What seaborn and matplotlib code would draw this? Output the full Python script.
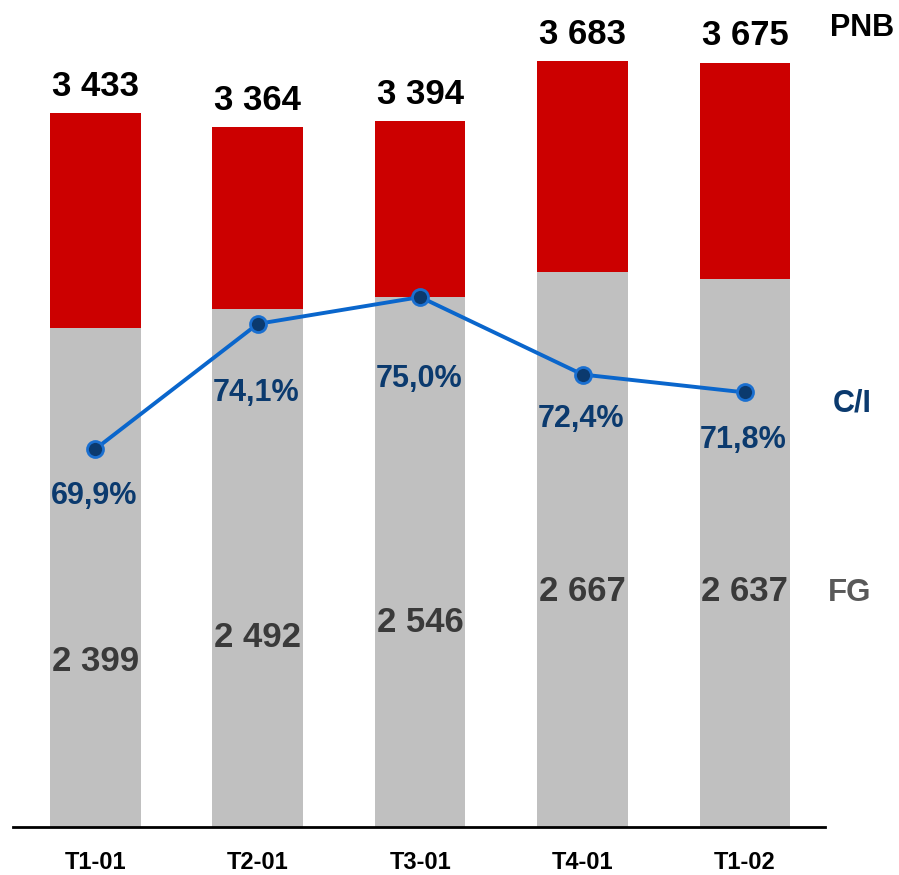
import numpy as np
import pandas as pd
import matplotlib
matplotlib.use("Agg")
import matplotlib.pyplot as plt
import seaborn as sns

categories = ["T1-01", "T2-01", "T3-01", "T4-01", "T1-02"]
pnb = [3433, 3364, 3394, 3683, 3675]
fg = [2399, 2492, 2546, 2667, 2637]
ci = [69.9, 74.1, 75.0, 72.4, 71.8]
pnb_labels = ["3 433", "3 364", "3 394", "3 683", "3 675"]
fg_labels = ["2 399", "2 492", "2 546", "2 667", "2 637"]
ci_labels = ["69,9%", "74,1%", "75,0%", "72,4%", "71,8%"]

# layout-only offsets (points) for the labels
ci_label_dy = [-34, -50, -59, -32, -34]
fg_label_dy = [-240, -237, -234, -230, -225]

sns.set_theme(style="white")
plt.rcParams["font.family"] = ["Liberation Sans", "DejaVu Sans"]

W, H = 899, 875
fig = plt.figure(figsize=(W / 100, H / 100), dpi=100)
ax = fig.add_axes([13 / W, 48 / H, (825 - 13) / W, 817 / H])

df = pd.DataFrame({"cat": categories, "pnb": pnb, "fg": fg})
sns.barplot(data=df, x="cat", y="pnb", color="#CC0000", saturation=1,
            width=0.558, ax=ax, order=categories)
sns.barplot(data=df, x="cat", y="fg", color="#C0C0C0", saturation=1,
            width=0.558, ax=ax, order=categories)
for p in ax.patches:
    p.set_edgecolor("none")
    p.set_linewidth(0)

ax.set_xlim(-0.507, 4.493)
ax.set_ylim(0, 817 / 0.208)
ax.set_xlabel("")
ax.set_ylabel("")
ax.set_yticks([])
for s in ["top", "right", "left"]:
    ax.spines[s].set_visible(False)
ax.spines["bottom"].set_color("black")
ax.spines["bottom"].set_linewidth(2)
ax.tick_params(axis="x", length=0, pad=17)
for t in ax.get_xticklabels():
    t.set_fontsize(17)
    t.set_fontweight("bold")
    t.set_color("black")

x = np.arange(len(categories))
for xi, v, lab in zip(x, pnb, pnb_labels):
    ax.annotate(lab, (xi, v), xytext=(0, 12.5), textcoords="offset points",
                ha="center", va="baseline", fontsize=25, fontweight="bold",
                color="black")
for xi, v, lab, dy in zip(x, fg, fg_labels, fg_label_dy):
    ax.annotate(lab, (xi, v), xytext=(0, dy), textcoords="offset points",
                ha="center", va="center", fontsize=25, fontweight="bold",
                color="#3A3A3A")

ax2 = ax.twinx()
ax2.set_position(ax.get_position())
sns.lineplot(x=x, y=ci, ax=ax2, sort=False, color="#0A66CC", linewidth=2.8,
             marker="o", markersize=11.5, markerfacecolor="#0B3A6E",
             markeredgecolor="#1A6FD0", markeredgewidth=2, zorder=5)
ax2.set_ylim(57.22, 84.63)
ax2.set_yticks([])
ax2.set_ylabel("")
for s in ["top", "right", "left", "bottom"]:
    ax2.spines[s].set_visible(False)
for xi, v, lab, dy in zip(x, ci, ci_labels, ci_label_dy):
    ax2.annotate(lab, (xi, v), xytext=(-1, dy), textcoords="offset points",
                 ha="center", va="center", fontsize=22, fontweight="bold",
                 color="#0B3A6E")

fig.text(862 / W, 1 - 28 / H, "PNB", ha="center", va="center",
         fontsize=22, fontweight="bold", color="black")
fig.text(852 / W, 1 - 404 / H, "C/I", ha="center", va="center",
         fontsize=22, fontweight="bold", color="#0B3A6E")
fig.text(850 / W, 1 - 593 / H, "FG", ha="center", va="center",
         fontsize=22.5, fontweight="bold", color="#595959")

fig.savefig("out.png", dpi=100, facecolor="white")
